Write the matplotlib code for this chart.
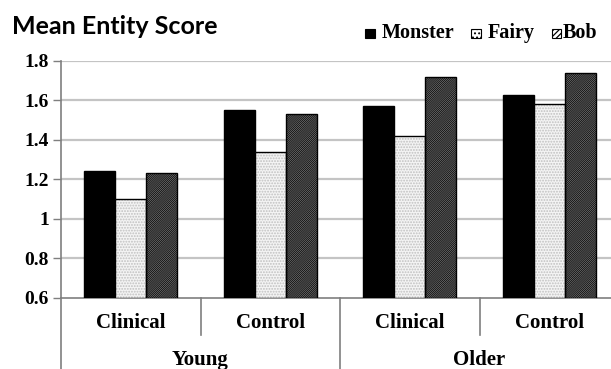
import matplotlib
matplotlib.use("Agg")
import matplotlib.pyplot as plt
import numpy as np
from matplotlib.patches import Rectangle

# ---- data ----
groups = ["Young", "Older"]
conditions = ["Clinical", "Control", "Clinical", "Control"]
series = ["Monster", "Fairy", "Bob"]
monster = [1.24, 1.55, 1.57, 1.63]
fairy = [1.10, 1.34, 1.42, 1.58]
bob = [1.23, 1.53, 1.72, 1.74]
yticks = [0.6, 0.8, 1.0, 1.2, 1.4, 1.6, 1.8]
ytick_labels = ["0.6", "0.8", "1", "1.2", "1.4", "1.6", "1.8"]

W, H = 611, 369
fig = plt.figure(figsize=(W / 100, H / 100), dpi=100)
left_px, right_px, top_px, bot_px = 61, 619, 61, 297.7
ax = fig.add_axes([left_px / W, 1 - bot_px / H, (right_px - left_px) / W, (bot_px - top_px) / H])

serif = "Liberation Serif"
axis_col = "#7f7f7f"
grid_col = "#c4c4c4"

x = np.arange(len(conditions))
bw = 0.222
offs = [-bw, 0, bw]
base = yticks[0]

plt.rcParams["hatch.linewidth"] = 0.9
# Monster: solid black
ax.bar(x + offs[0], np.array(monster) - base, bw, bottom=base, color="black",
       edgecolor="black", linewidth=1.0, zorder=3)
# Fairy: light dotted fill
ax.bar(x + offs[1], np.array(fairy) - base, bw, bottom=base, color="#f4f4f4",
       edgecolor="#c0c0c0", hatch="......", linewidth=0, zorder=3)
ax.bar(x + offs[1], np.array(fairy) - base, bw, bottom=base, color="none",
       edgecolor="black", linewidth=1.0, zorder=4)
# Bob: dense diagonal
ax.bar(x + offs[2], np.array(bob) - base, bw, bottom=base, color="white",
       edgecolor="#1a1a1a", hatch="/" * 16, linewidth=0, zorder=3)
ax.bar(x + offs[2], np.array(bob) - base, bw, bottom=base, color="none",
       edgecolor="black", linewidth=1.0, zorder=4)

ax.set_xlim(-0.5, len(conditions) - 0.5)
ax.set_ylim(yticks[0], yticks[-1])
ax.set_yticks(yticks)
ax.set_yticklabels(ytick_labels, fontfamily=serif, fontweight="bold", fontsize=14)
ax.tick_params(axis="y", direction="out", length=5.8, width=1.0, color=axis_col, pad=3)
ax.set_xticks([])
for yv in yticks[1:]:
    ax.axhline(yv, color=grid_col, linewidth=1.6, zorder=1)

for s in ["top", "right"]:
    ax.spines[s].set_visible(False)
ax.spines["left"].set_color(axis_col)
ax.spines["bottom"].set_color(axis_col)
ax.spines["left"].set_linewidth(1.2)
ax.spines["bottom"].set_linewidth(1.2)
ax.set_facecolor("none")

# category axis structure
ax_h = bot_px - top_px
y_sep = -(335 - bot_px) / ax_h
y_bottom = -(H - bot_px) / ax_h
tr = ax.get_xaxis_transform()
ax.plot([-0.5, -0.5], [0, y_bottom], color=axis_col, lw=1.2, transform=tr, clip_on=False)
for xs in [0.5, 2.5]:
    ax.plot([xs, xs], [0, y_sep], color=axis_col, lw=1.2, transform=tr, clip_on=False)
ax.plot([1.5, 1.5], [0, y_bottom], color=axis_col, lw=1.2, transform=tr, clip_on=False)

y_cond = -(323.3 - bot_px) / ax_h
y_grp = -(360 - bot_px) / ax_h
for i, c in enumerate(conditions):
    ax.text(i, y_cond, c, transform=tr, ha="center", va="center",
            fontfamily=serif, fontweight="bold", fontsize=15)
for gi, g in enumerate(groups):
    ax.text(gi * 2 + 0.5, y_grp, g, transform=tr, ha="center", va="center",
            fontfamily=serif, fontweight="bold", fontsize=15)

# title
fig.text(12 / W, 1 - 27 / H, "Mean Entity Score", fontfamily="Lato", fontweight="bold",
         fontsize=18, ha="left", va="center")

# legend (manual, top right)
leg_y = 1 - 33.3 / H
box = 9.5
entries = [("black", None, 365, 381.7), ("white", "....", 471, 487.7), ("white", "//////", 551.7, 563)]
for (fc, hatch, bx, tx), name in zip(entries, series):
    r = Rectangle((bx / W, leg_y - (box / 2) / H), box / W, box / H, transform=fig.transFigure,
                  facecolor=fc, edgecolor="black", hatch=hatch, linewidth=0.8)
    fig.add_artist(r)
    fig.text(tx / W, leg_y, name, fontfamily=serif, fontweight="bold", fontsize=14.5,
             ha="left", va="center")

fig.savefig("out.png", dpi=100)
